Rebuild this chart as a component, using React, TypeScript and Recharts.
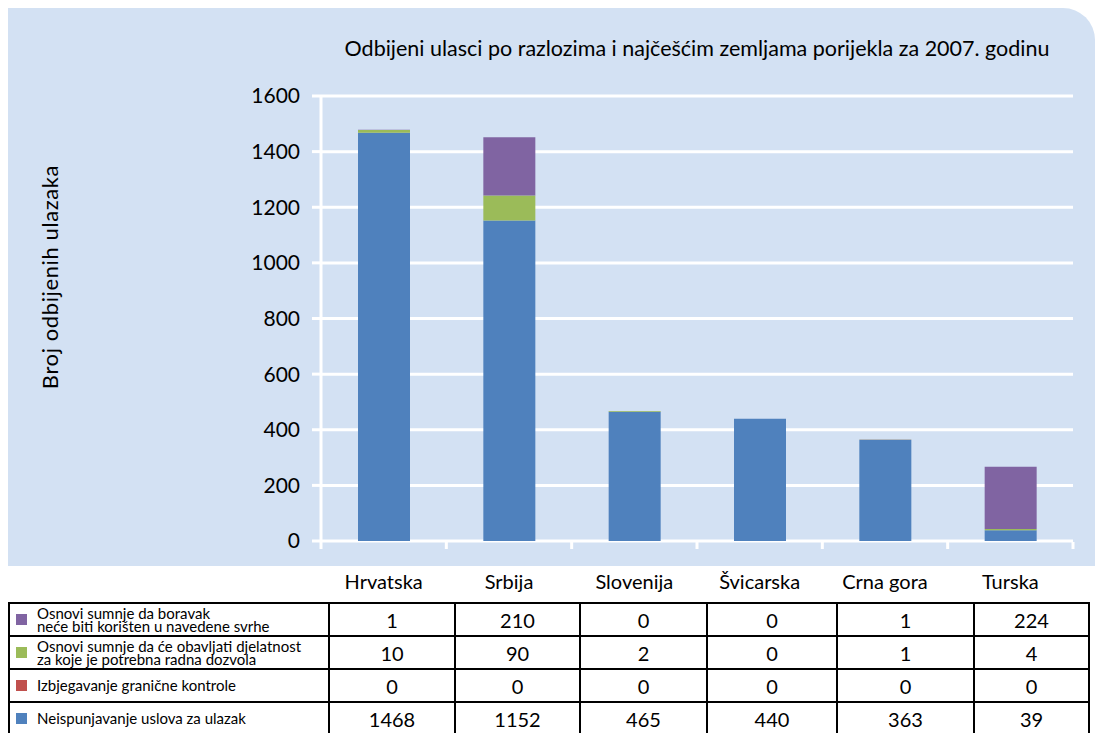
import React from 'react';
import { BarChart, Bar, XAxis, YAxis, CartesianGrid, Label } from 'recharts';

const categories = ['Hrvatska', 'Srbija', 'Slovenija', 'Švicarska', 'Crna gora', 'Turska'];
const neispunjavanje = [1468, 1152, 465, 440, 363, 39];
const izbjegavanje = [0, 0, 0, 0, 0, 0];
const radnaDozvola = [10, 90, 2, 0, 1, 4];
const boravak = [1, 210, 0, 0, 1, 224];
const yTicks = [0, 200, 400, 600, 800, 1000, 1200, 1400, 1600];

const title = 'Odbijeni ulasci po razlozima i najčešćim zemljama porijekla za 2007. godinu';
const yLabel = 'Broj odbijenih ulazaka';

const series = [
  { key: 'neispunjavanje', name: 'Neispunjavanje uslova za ulazak', values: neispunjavanje, color: '#4F81BD' },
  { key: 'izbjegavanje', name: 'Izbjegavanje granične kontrole', values: izbjegavanje, color: '#C0504D' },
  { key: 'radnaDozvola', name: 'Osnovi sumnje da će obavljati djelatnost\nza koje je potrebna radna dozvola', values: radnaDozvola, color: '#9BBB59' },
  { key: 'boravak', name: 'Osnovi sumnje da boravak\nneće biti korišten u navedene svrhe', values: boravak, color: '#8064A2' },
];

const data = categories.map((c, i) => {
  const row: any = { name: c };
  series.forEach((s) => { row[s.key] = s.values[i]; });
  return row;
});

const FONT = 'Lato, "Open Sans", sans-serif';
const PANEL = '#D3E1F3';

const XTick = (props: any) => {
  const { x, y, payload, index } = props;
  const half = payload && payload.offset ? payload.offset : 62.6;
  const n = categories.length;
  return (
    <g>
      <line x1={x - half} y1={y - 7} x2={x - half} y2={y} stroke="#fff" strokeWidth={3} />
      {index === n - 1 && (
        <line x1={x + half} y1={y - 7} x2={x + half} y2={y} stroke="#fff" strokeWidth={3} />
      )}
      <text x={x} y={y + 40} textAnchor="middle" fontSize={20} fontFamily={FONT} fill="#000">
        {payload.value}
      </text>
    </g>
  );
};

const YLabelContent = () => {
  return (
    <text
      x={41}
      y={269}
      transform="rotate(-90 41 269)"
      textAnchor="middle"
      dominantBaseline="central"
      fontSize={22}
      letterSpacing={0.6}
      fontFamily={FONT}
      fill="#000"
    >
      {yLabel}
    </text>
  );
};

const colW = [320, 126, 125, 127, 130, 137, 115];
const tableRows = [...series].reverse();

export default function App() {
  return (
    <div style={{ position: 'relative', width: 1097, height: 725, fontFamily: FONT }}>
      <div
        style={{
          position: 'absolute', left: 0, top: 0, width: 1087, height: 558,
          background: PANEL, borderTopRightRadius: 32,
        }}
      />
      <div
        style={{
          position: 'absolute', left: 239, top: 26, width: 900, textAlign: 'center',
          fontSize: 21.5, color: '#000', whiteSpace: 'nowrap', lineHeight: '28px',
        }}
      >
        {title}
      </div>
      <div style={{ position: 'absolute', left: 0, top: 0 }}>
        <BarChart
          width={1087}
          height={600}
          data={data}
          margin={{ top: 88, right: 22, bottom: 0, left: 0 }}
        >
          <CartesianGrid vertical={false} stroke="#fff" strokeWidth={3} />
          <XAxis
            dataKey="name"
            height={67}
            axisLine={false}
            tickLine={false}
            tick={<XTick />}
            interval={0}
          />
          <YAxis
            width={313}
            domain={[0, 1600]}
            ticks={yTicks}
            interval={0}
            axisLine={{ stroke: '#fff', strokeWidth: 3 }}
            tickLine={{ stroke: '#fff', strokeWidth: 3 }}
            tickSize={9}
            tickMargin={12}
            tick={{ fill: '#000', fontSize: 21, fontFamily: FONT }}
          >
            <Label content={<YLabelContent />} />
          </YAxis>
          {series.map((s) => (
            <Bar
              key={s.key}
              dataKey={s.key}
              stackId="a"
              fill={s.color}
              barSize={52}
              isAnimationActive={false}
            />
          ))}
        </BarChart>
      </div>
      <table
        style={{
          position: 'absolute', left: 0, top: 594, borderCollapse: 'collapse',
          tableLayout: 'fixed', width: colW.reduce((a, b) => a + b, 0),
        }}
      >
        <colgroup>
          {colW.map((w, i) => <col key={i} style={{ width: w }} />)}
        </colgroup>
        <tbody>
          {tableRows.map((s) => (
            <tr key={s.key}>
              <td style={{ border: '2px solid #000', padding: 0, height: 31 }}>
                <div style={{ display: 'flex', alignItems: 'center', paddingLeft: 6 }}>
                  <div style={{ width: 11, height: 11, background: s.color, marginRight: 10, flexShrink: 0 }} />
                  <div style={{ fontSize: 15, lineHeight: '13px', whiteSpace: 'pre', color: '#000' }}>
                    {s.name}
                  </div>
                </div>
              </td>
              {s.values.map((v, i) => (
                <td
                  key={i}
                  style={{
                    border: '2px solid #000', padding: 0, textAlign: 'center',
                    fontSize: 20, color: '#000', height: 31,
                  }}
                >
                  {v}
                </td>
              ))}
            </tr>
          ))}
        </tbody>
      </table>
    </div>
  );
}
